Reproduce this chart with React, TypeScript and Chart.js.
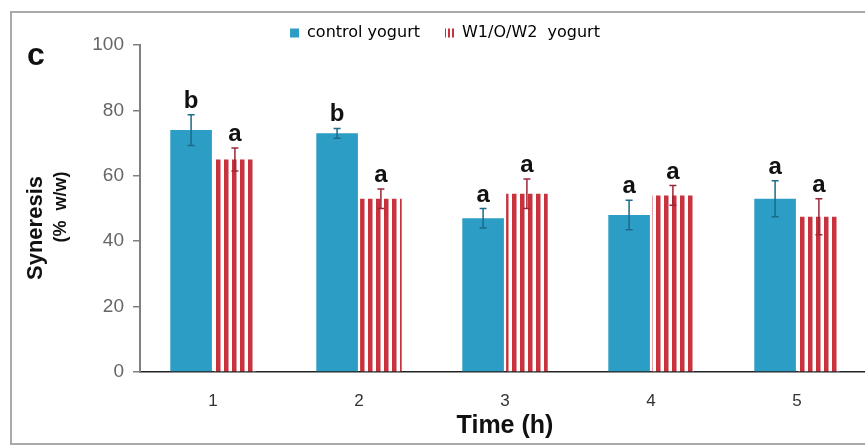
import React, { useEffect, useRef } from 'react';
import { Chart, registerables } from 'chart.js';

Chart.register(...registerables);

const categories = ['1', '2', '3', '4', '5'];
const controlValues = [74, 73, 47, 48, 53];
const controlErrors = [4.7, 1.5, 3, 4.5, 5.5];
const w1Values = [65, 53, 54.5, 54, 47.5];
const w1Errors = [3.5, 3, 4.5, 3, 5.5];
const controlLetters = ['b', 'b', 'a', 'a', 'a'];
const w1Letters = ['a', 'a', 'a', 'a', 'a'];
const seriesNames = ['control yogurt', 'W1/O/W2  yogurt'];
const yTickValues = [0, 20, 40, 60, 80, 100];
const xTitle = 'Time (h)';
const yTitleMain = 'Syneresis';
const yTitleSub = '(%  w/w)';
const panelLabel = 'c';

const BLUE = '#2c9dc4';
const RED = '#c8323c';
const ARIAL = '"Liberation Sans", Arial, sans-serif';

function makeStripe(period: number, redWidth: number): CanvasPattern | string {
  const c = document.createElement('canvas');
  c.width = period;
  c.height = 4;
  const g = c.getContext('2d');
  if (!g) return RED;
  g.fillStyle = '#ffffff';
  g.fillRect(0, 0, period, 4);
  g.fillStyle = RED;
  g.fillRect(0, 0, redWidth, 4);
  const p = g.createPattern(c, 'repeat');
  return p || RED;
}

export default function App() {
  const ref = useRef<HTMLCanvasElement | null>(null);

  useEffect(() => {
    const canvas = ref.current;
    if (!canvas) return;
    const barStripe = makeStripe(8, 4.5);
    const legendStripe = makeStripe(4, 2);

    const annot = {
      id: 'annot',
      afterDatasetsDraw(chart: any) {
        const ctx = chart.ctx;
        const ys = chart.scales.y;
        const sets = [
          { vals: controlValues, errs: controlErrors, letters: controlLetters, color: '#1d6a8a' },
          { vals: w1Values, errs: w1Errors, letters: w1Letters, color: '#9c2738' },
        ];
        sets.forEach((s, di) => {
          const meta = chart.getDatasetMeta(di);
          meta.data.forEach((bar: any, i: number) => {
            const x = bar.x;
            const top = ys.getPixelForValue(s.vals[i] + s.errs[i]);
            const bot = ys.getPixelForValue(s.vals[i] - s.errs[i]);
            ctx.save();
            ctx.strokeStyle = s.color;
            ctx.lineWidth = 1.5;
            ctx.beginPath();
            ctx.moveTo(x, top);
            ctx.lineTo(x, bot);
            ctx.moveTo(x - 3.5, top);
            ctx.lineTo(x + 3.5, top);
            ctx.moveTo(x - 3.5, bot);
            ctx.lineTo(x + 3.5, bot);
            ctx.stroke();
            ctx.fillStyle = '#111';
            ctx.font = 'bold 24px ' + ARIAL;
            ctx.textAlign = 'center';
            ctx.textBaseline = 'alphabetic';
            ctx.fillText(s.letters[i], x, top - 7);
            ctx.restore();
          });
        });
      },
      afterDraw(chart: any) {
        const ctx = chart.ctx;
        ctx.save();
        ctx.fillStyle = '#111';
        ctx.textAlign = 'center';
        ctx.textBaseline = 'middle';
        ctx.font = 'bold 32px ' + ARIAL;
        ctx.fillText(panelLabel, 36, 56);
        ctx.save();
        ctx.translate(36, 228);
        ctx.rotate(-Math.PI / 2);
        ctx.font = 'bold 22px ' + ARIAL;
        ctx.fillText(yTitleMain, 0, 0);
        ctx.restore();
        ctx.save();
        ctx.translate(61, 207);
        ctx.rotate(-Math.PI / 2);
        ctx.font = 'bold 18px ' + ARIAL;
        ctx.fillText(yTitleSub, 0, 0);
        ctx.restore();
        ctx.restore();
      },
    };

    const chart = new Chart(canvas, {
      type: 'bar',
      data: {
        labels: categories,
        datasets: [
          {
            label: seriesNames[0],
            data: controlValues,
            backgroundColor: BLUE,
            borderWidth: 0,
            barPercentage: 0.95,
            categoryPercentage: 0.6,
          },
          {
            label: seriesNames[1],
            data: w1Values,
            backgroundColor: barStripe as any,
            borderWidth: 0,
            barPercentage: 0.95,
            categoryPercentage: 0.6,
          },
        ],
      },
      options: {
        responsive: false,
        animation: false,
        layout: { padding: { top: 0, left: 20, right: 10, bottom: 0 } },
        plugins: {
          tooltip: { enabled: false },
          legend: {
            position: 'top',
            maxHeight: 45,
            labels: {
              boxWidth: 9,
              boxHeight: 9,
              padding: 25,
              color: '#3a3a3a',
              font: { family: '"DejaVu Sans", sans-serif', size: 16 },
              generateLabels: () => [
                { text: seriesNames[0], fillStyle: BLUE, strokeStyle: BLUE, lineWidth: 0, datasetIndex: 0, hidden: false },
                { text: seriesNames[1], fillStyle: legendStripe as any, strokeStyle: 'rgba(0,0,0,0)', lineWidth: 0, datasetIndex: 1, hidden: false },
              ],
            },
          },
        },
        scales: {
          x: {
            grid: { display: false, drawTicks: false },
            border: { display: true, color: '#222', width: 1.5 },
            ticks: { color: '#333', padding: 19, font: { family: ARIAL, size: 17 } },
            title: {
              display: true,
              text: xTitle,
              color: '#111',
              font: { family: ARIAL, size: 25, weight: 'bold' },
              padding: { top: 0, bottom: 7 },
            },
            afterFit: (s: any) => {
              s.height = 76;
            },
          },
          y: {
            min: 0,
            max: 100,
            afterBuildTicks: (s: any) => {
              s.ticks = yTickValues.map((v) => ({ value: v }));
            },
            grid: { drawOnChartArea: false, drawTicks: true, tickLength: 7, color: '#808080', lineWidth: 1.5 },
            border: { display: true, color: '#808080', width: 2 },
            ticks: { color: '#666', padding: 9, font: { family: ARIAL, size: 19 } },
            afterFit: (s: any) => {
              s.width = 120;
            },
          },
        },
      },
      plugins: [annot],
    });
    return () => chart.destroy();
  }, []);

  return (
    <div style={{ position: 'fixed', left: 0, top: 0, width: 865, height: 448, overflow: 'hidden', background: '#fff' }}>
      <canvas ref={ref} width={880} height={448} style={{ display: 'block' }} />
      <div
        style={{
          position: 'absolute',
          left: 10,
          top: 11,
          width: 1000,
          height: 434,
          border: '2px solid #a9a9a9',
          boxSizing: 'border-box',
          pointerEvents: 'none',
        }}
      />
    </div>
  );
}
